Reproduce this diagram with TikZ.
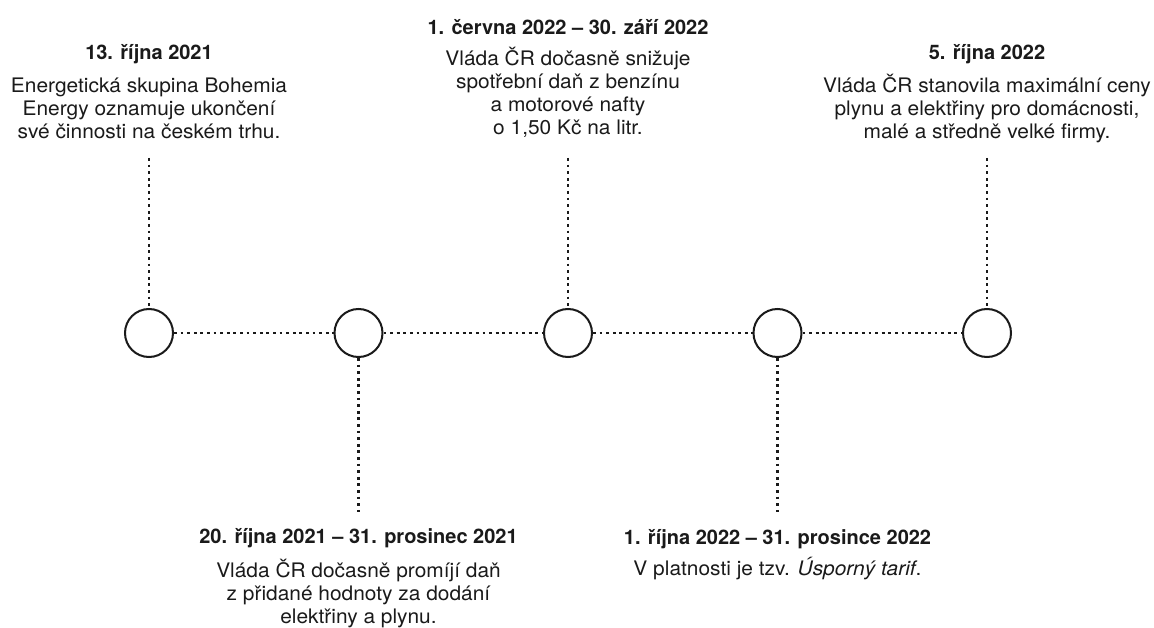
\documentclass[tikz,border=0pt]{standalone}
\usepackage{fontspec}
\setmainfont{TeX Gyre Heros}
\newfontfamily\bodyfont[FakeStretch=1.045]{TeX Gyre Heros}
\begin{document}
\begin{tikzpicture}[x=1pt,y=-1pt,
  every node/.style={inner sep=0pt, text=ink},
  dot/.style={circle, draw=ink, line width=2pt, minimum size=48pt, fill=white},
  dotline/.style={draw=ink, line width=2.8pt, dash pattern=on 2.8pt off 3.8pt},
  ttl/.style={anchor=base, font=\fontsize{20}{23}\selectfont\bfseries},
  body/.style={anchor=north, align=center, font=\bodyfont\fontsize{20}{23}\selectfont}
]
\definecolor{ink}{HTML}{1A1A1A}
\useasboundingbox (0,0) rectangle (1154,628);
% circles
\node[dot] (c1) at (149,333) {};
\node[dot] (c2) at (358.5,333) {};
\node[dot] (c3) at (568,333) {};
\node[dot] (c4) at (777.5,333) {};
\node[dot] (c5) at (987,333) {};
% free ends
\coordinate (t1) at (149,158);
\coordinate (t3) at (568,158);
\coordinate (t5) at (987,158);
\coordinate (b2) at (358.5,512);
\coordinate (b4) at (777.5,512);
% connectors
\draw[dotline] (c1.east) -- (c2.west);
\draw[dotline] (c2.east) -- (c3.west);
\draw[dotline] (c3.east) -- (c4.west);
\draw[dotline] (c4.east) -- (c5.west);
\draw[dotline] (t1) -- (c1.north);
\draw[dotline] (t3) -- (c3.north);
\draw[dotline] (t5) -- (c5.north);
\draw[dotline] (c2.south) -- (b2);
\draw[dotline] (c4.south) -- (b4);
% texts
\node[ttl] (h1) at (149,60) {13. října 2021};
\node[body] (d1) at (149,72) {\rule{0pt}{20pt}Energetická skupina Bohemia\\Energy oznamuje ukončení\\své činnosti na českém trhu.};
\node[ttl] (h3) at (568,35) {1. června 2022 – 30. září 2022};
\node[body] (d3) at (568,45) {\rule{0pt}{20pt}Vláda ČR dočasně snižuje\\spotřební daň z benzínu\\a motorové nafty\\o 1,50 Kč na litr.};
\node[ttl] (h5) at (987,60) {5. října 2022};
\node[body] (d5) at (987,72) {\rule{0pt}{20pt}Vláda ČR stanovila maximální ceny\\plynu a elektřiny pro domácnosti,\\malé a středně velké firmy.};
\node[ttl] (h2) at (358.5,543) {20. října 2021 – 31. prosinec 2021};
\node[body] (d2) at (358.5,557) {\rule{0pt}{20pt}Vláda ČR dočasně promíjí daň\\z přidané hodnoty za dodání\\elektřiny a plynu.};
\node[ttl] (h4) at (777.5,544) {1. října 2022 – 31. prosince 2022};
\node[body] (d4) at (777.5,555) {\rule{0pt}{20pt}V platnosti je tzv. \textit{Úsporný tarif}.};
\end{tikzpicture}
\end{document}
